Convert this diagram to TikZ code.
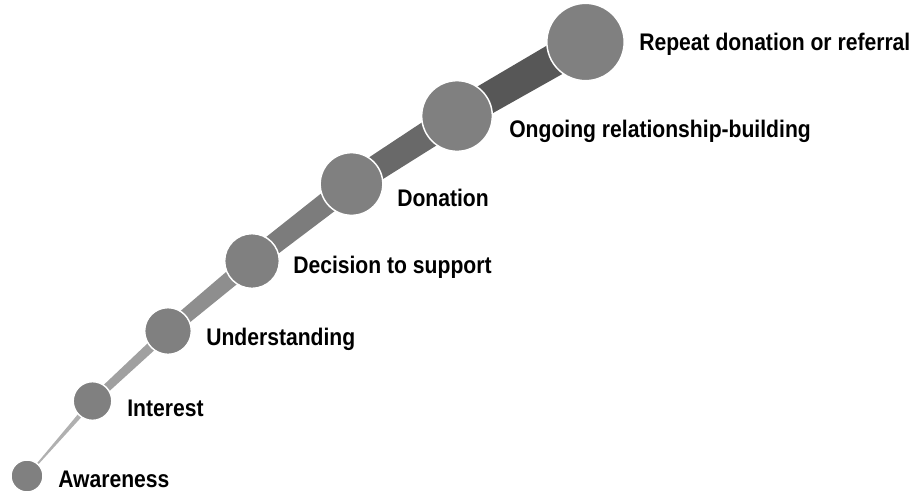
\documentclass[tikz,border=0pt]{standalone}
\usepackage{fontspec}
\setmainfont{Liberation Sans}[FakeStretch=0.88]
\usetikzlibrary{calc}

\definecolor{stagegray}{HTML}{808080}
\definecolor{bandA}{HTML}{B0B0B0}
\definecolor{bandB}{HTML}{A0A0A0}
\definecolor{bandC}{HTML}{8E8E8E}
\definecolor{bandD}{HTML}{7C7C7C}
\definecolor{bandE}{HTML}{696969}
\definecolor{bandF}{HTML}{575757}

\begin{document}
\begin{tikzpicture}[
x=0.75pt, y=-0.75pt,
stage/.style={circle, inner sep=0pt, fill=stagegray, draw=white, line width=1.1pt},
caption/.style={anchor=base west, inner sep=0pt, font=\fontsize{18}{21}\selectfont\bfseries},
band/.style={draw=none}
]
\useasboundingbox (0,0) rectangle (921,494);

% stages, small to large
\coordinate (aware-c) at (27,476);
\coordinate (interest-c) at (92.5,401);
\coordinate (understand-c) at (168,331);
\coordinate (decision-c) at (252,261);
\coordinate (donation-c) at (351.5,184);
\coordinate (ongoing-c) at (457,116);
\coordinate (repeat-c) at (585.5,42);

% the tapering band
\fill [band, bandA] ($(aware-c)!0.4pt!90:(interest-c)$) -- ($(interest-c)!2pt!-90:(aware-c)$)
  -- ($(interest-c)!2pt!90:(aware-c)$) -- ($(aware-c)!0.4pt!-90:(interest-c)$) -- cycle;
\fill [band, bandB] ($(interest-c)!3pt!90:(understand-c)$) -- ($(understand-c)!3.8pt!-90:(interest-c)$)
  -- ($(understand-c)!3.8pt!90:(interest-c)$) -- ($(interest-c)!3pt!-90:(understand-c)$) -- cycle;
\fill [band, bandC] ($(understand-c)!5.3pt!90:(decision-c)$) -- ($(decision-c)!6.4pt!-90:(understand-c)$)
  -- ($(decision-c)!6.4pt!90:(understand-c)$) -- ($(understand-c)!5.3pt!-90:(decision-c)$) -- cycle;
\fill [band, bandD] ($(decision-c)!7.5pt!90:(donation-c)$) -- ($(donation-c)!8.6pt!-90:(decision-c)$)
  -- ($(donation-c)!8.6pt!90:(decision-c)$) -- ($(decision-c)!7.5pt!-90:(donation-c)$) -- cycle;
\fill [band, bandE] ($(donation-c)!9.4pt!90:(ongoing-c)$) -- ($(ongoing-c)!10.5pt!-90:(donation-c)$)
  -- ($(ongoing-c)!10.5pt!90:(donation-c)$) -- ($(donation-c)!9.4pt!-90:(ongoing-c)$) -- cycle;
\fill [band, bandF] ($(ongoing-c)!11.3pt!90:(repeat-c)$) -- ($(repeat-c)!12.4pt!-90:(ongoing-c)$)
  -- ($(repeat-c)!12.4pt!90:(ongoing-c)$) -- ($(ongoing-c)!11.3pt!-90:(repeat-c)$) -- cycle;

\node [stage, minimum size=24pt] (aware) at (aware-c) {};
\node [stage, minimum size=29pt] (interest) at (interest-c) {};
\node [stage, minimum size=35pt] (understand) at (understand-c) {};
\node [stage, minimum size=41pt] (decision) at (decision-c) {};
\node [stage, minimum size=47pt] (donation) at (donation-c) {};
\node [stage, minimum size=53pt] (ongoing) at (ongoing-c) {};
\node [stage, minimum size=58pt] (repeat) at (repeat-c) {};

\node [caption] (aware-lbl) at (58,487.5) {Awareness};
\node [caption] (interest-lbl) at (127,416) {Interest};
\node [caption] (understand-lbl) at (206,345) {Understanding};
\node [caption] (decision-lbl) at (293,273) {Decision to support};
\node [caption] (donation-lbl) at (397,206.5) {Donation};
\node [caption] (ongoing-lbl) at (509,137) {Ongoing relationship-building};
\node [caption] (repeat-lbl) at (639,50.5) {Repeat donation or referral};
\end{tikzpicture}
\end{document}
